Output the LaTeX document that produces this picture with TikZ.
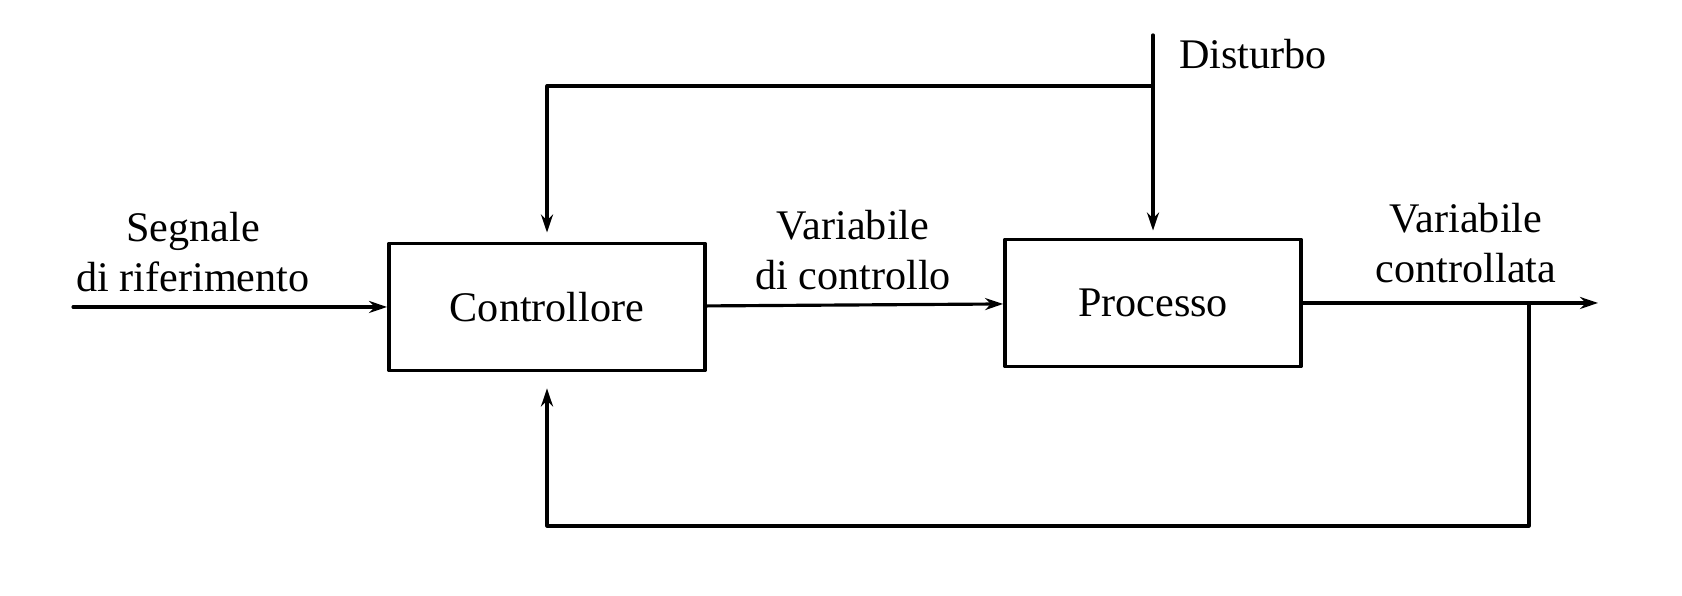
\documentclass[tikz,border=0pt]{standalone}
\usepackage{fontspec}
\setmainfont{Liberation Serif}
\usetikzlibrary{arrows.meta}
\begin{document}
\begin{tikzpicture}[line join=round, line cap=round, >={Stealth[length=1.8mm, width=1.2mm]}, line width=0.9pt, font=\fontsize{12}{14}\selectfont]
	\tikzset{blocco/.style={draw, line width=1.1pt, minimum height=1.27cm, inner sep=0pt},
		etich/.style={align=center}}
	\useasboundingbox (0,0) rectangle (16.82,5.96);
	
	\node[blocco, minimum width=3.16cm] (C) at (5.47,2.89) {Controllore};
	\node[blocco, minimum width=2.96cm] (P) at (11.53,2.93) {Processo};
	
	\coordinate (R) at (0.73,2.89);
	\coordinate (Y) at (15.98,2.93);
	\coordinate (K) at (15.29,2.93);
	\coordinate (B) at (15.29,0.70);
	\coordinate (D) at (11.53,5.61);
	\coordinate (T) at (11.53,5.10);
	
	\draw[->] (R)--(C);
	\draw[->] (C)--(P);
	\draw[->] (P)--(Y);
	\draw[->, shorten >=0.7mm] (D)--(P);
	\draw[->, shorten >=0.9mm] (T)-|(C);
	\draw[->, shorten >=1.6mm] (K)--(B)-|(C);
	
	\node[etich] (rif) at (1.93,3.44) {Segnale\\di riferimento};
	\node[etich] (uc) at (8.53,3.46) {Variabile\\di controllo};
	\node[etich] (yc) at (14.66,3.53) {Variabile\\controllata};
	\node[anchor=west] (dist) at (11.66,5.42) {Disturbo};
\end{tikzpicture}
\end{document}
